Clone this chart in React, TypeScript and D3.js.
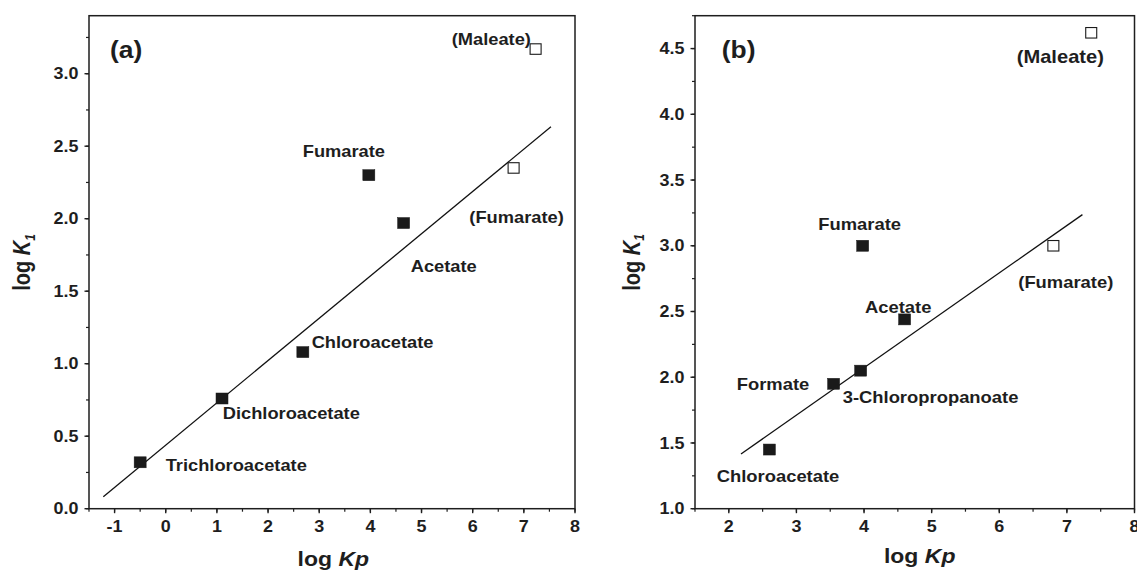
import React from "react";
import * as d3 from "d3";

// ---------- data ----------
const aNames = ["Trichloroacetate", "Dichloroacetate", "Chloroacetate", "Fumarate", "Acetate", "(Fumarate)", "(Maleate)"];
const aLogKp = [-0.5, 1.1, 2.68, 3.97, 4.65, 6.8, 7.23];
const aLogK1 = [0.32, 0.76, 1.08, 2.3, 1.97, 2.35, 3.17];
const aOpen = [false, false, false, false, false, true, true];
const aFitX = [-1.22, 7.53];
const aFitY = [0.083, 2.634];
const aXTicks = [-1, 0, 1, 2, 3, 4, 5, 6, 7, 8];
const aYTicks = [0.0, 0.5, 1.0, 1.5, 2.0, 2.5, 3.0];

const bNames = ["Chloroacetate", "Formate", "3-Chloropropanoate", "Acetate", "Fumarate", "(Fumarate)", "(Maleate)"];
const bLogKp = [2.6, 3.55, 3.95, 4.6, 3.98, 6.8, 7.36];
const bLogK1 = [1.45, 1.95, 2.05, 2.44, 3.0, 3.0, 4.62];
const bOpen = [false, false, false, false, false, true, true];
const bFitX = [2.18, 7.23];
const bFitY = [1.416, 3.237];
const bXTicks = [2, 3, 4, 5, 6, 7, 8];
const bYTicks = [1.0, 1.5, 2.0, 2.5, 3.0, 3.5, 4.0, 4.5];

// ---------- layout ----------
const SX = 1.15;
const FONT = "'Liberation Sans', Arial, Helvetica, sans-serif";
const INK = "#1e1e1e";

const aLabelOffsets = [[25.5, 8.4], [0.7, 20.8], [8.8, -3.8], [-66.1, -18.5], [7.1, 48.7], [-44.3, 55.4], [-83.9, -4]];
const aLabelSizes = [15.9, 15.9, 15.9, 15.9, 15.9, 15.9, 15.9];
const bLabelOffsets = [[-52.7, 32.2], [-96.9, 6.2], [-18, 32.6], [-39.6, -6.1], [-44.4, -15.8], [-35.1, 42.5], [-74.5, 30.5]];
const bLabelSizes = [16, 16, 16, 16, 16, 16, 17.5];

const panels = [
  {
    tag: "(a)", names: aNames, xs: aLogKp, ys: aLogK1, open: aOpen, fitX: aFitX, fitY: aFitY,
    xTicks: aXTicks, yTicks: aYTicks, xDom: [-1.5, 8], yDom: [0, 3.4],
    left: 89, right: 575, top: 15.7, bottom: 508.7,
    offsets: aLabelOffsets, sizes: aLabelSizes, tagPos: [110, 58], xTitle: [333.3, 566], yTitle: [30, 262.5],
  },
  {
    tag: "(b)", names: bNames, xs: bLogKp, ys: bLogK1, open: bOpen, fitX: bFitX, fitY: bFitY,
    xTicks: bXTicks, yTicks: bYTicks, xDom: [1.5, 8], yDom: [1, 4.75],
    left: 695, right: 1134.5, top: 15.7, bottom: 508.7,
    offsets: bLabelOffsets, sizes: bLabelSizes, tagPos: [721.7, 58], xTitle: [919.7, 563], yTitle: [639.5, 262.5],
  },
];

function T(props: any) {
  const { x, y, size, anchor = "start", rotate = false, children, italic = false } = props;
  return (
    <text
      transform={`translate(${x},${y}) scale(${SX},1)${rotate ? " rotate(-90)" : ""}`}
      fontSize={size}
      fontFamily={FONT}
      fontWeight="bold"
      fontStyle={italic ? "italic" : "normal"}
      textAnchor={anchor}
      fill={INK}
    >
      {children}
    </text>
  );
}

function Panel({ p }: { p: any }) {
  const x = d3.scaleLinear().domain(p.xDom).range([p.left, p.right]);
  const y = d3.scaleLinear().domain(p.yDom).range([p.bottom, p.top]);
  const xMinor = d3.range(Math.ceil(p.xDom[0] * 2) / 2, p.xDom[1] + 1e-9, 0.5);
  const yMinor = d3.range(Math.ceil(p.yDom[0] * 4) / 4, p.yDom[1] + 1e-9, 0.25);
  const line = d3.line<[number, number]>().x((d) => x(d[0])).y((d) => y(d[1]));
  const fit: [number, number][] = p.fitX.map((v: number, i: number) => [v, p.fitY[i]]);
  const fmt = d3.format(".1f");
  return (
    <g>
      {/* frame */}
      <rect x={p.left} y={p.top} width={p.right - p.left} height={p.bottom - p.top} fill="none" stroke={INK} strokeWidth={1.5} />
      {/* minor ticks */}
      {xMinor.map((v: number, i: number) => (
        <line key={"xm" + i} x1={x(v)} x2={x(v)} y1={p.bottom} y2={p.bottom + 3} stroke={INK} strokeWidth={1.2} />
      ))}
      {yMinor.map((v: number, i: number) => (
        <line key={"ym" + i} x1={p.left - 3} x2={p.left} y1={y(v)} y2={y(v)} stroke={INK} strokeWidth={1.2} />
      ))}
      {/* major ticks */}
      {p.xTicks.map((v: number) => (
        <g key={"xt" + v}>
          <line x1={x(v)} x2={x(v)} y1={p.bottom} y2={p.bottom + 4.5} stroke={INK} strokeWidth={1.4} />
          <T x={x(v)} y={532} size={15.6} anchor="middle">{String(v)}</T>
        </g>
      ))}
      {p.yTicks.map((v: number) => (
        <g key={"yt" + v}>
          <line x1={p.left - 4.5} x2={p.left} y1={y(v)} y2={y(v)} stroke={INK} strokeWidth={1.4} />
          <T x={p.left - 10.5} y={y(v) + 5.6} size={15.6} anchor="end">{fmt(v)}</T>
        </g>
      ))}
      {/* fit line */}
      <path d={line(fit) || ""} fill="none" stroke="#111" strokeWidth={1.3} />
      {/* points */}
      {p.xs.map((v: number, i: number) => {
        const cx = x(v);
        const cy = y(p.ys[i]);
        const w = p.open[i] ? 11 : 12;
        const h = p.open[i] ? 10.5 : 11;
        return (
          <rect
            key={"pt" + i}
            x={cx - w / 2}
            y={cy - h / 2}
            width={w}
            height={h}
            fill={p.open[i] ? "#fff" : "#1a1a1a"}
            stroke="#1a1a1a"
            strokeWidth={p.open[i] ? 1.1 : 0.5}
          />
        );
      })}
      {/* labels */}
      {p.names.map((n: string, i: number) => (
        <T key={"lb" + i} x={x(p.xs[i]) + p.offsets[i][0]} y={y(p.ys[i]) + p.offsets[i][1]} size={p.sizes[i]}>
          {n}
        </T>
      ))}
      <T x={p.tagPos[0]} y={p.tagPos[1]} size={23}>{p.tag}</T>
      {/* axis titles */}
      <T x={p.xTitle[0]} y={p.xTitle[1]} size={20} anchor="middle">
        log <tspan fontStyle="italic">Kp</tspan>
      </T>
      <T x={p.yTitle[0]} y={p.yTitle[1]} size={20} anchor="middle" rotate>
        log <tspan fontStyle="italic">K</tspan>
        <tspan fontSize={12} dy={4} fontStyle="italic">1</tspan>
      </T>
    </g>
  );
}

export default function App() {
  return (
    <svg
      width={1137}
      height={571}
      viewBox="0 0 1137 571"
      style={{ position: "absolute", left: 0, top: 0, background: "#fff", display: "block" }}
    >
      <rect x={0} y={0} width={1137} height={571} fill="#fff" />
      {panels.map((p) => (
        <Panel key={p.tag} p={p} />
      ))}
    </svg>
  );
}
